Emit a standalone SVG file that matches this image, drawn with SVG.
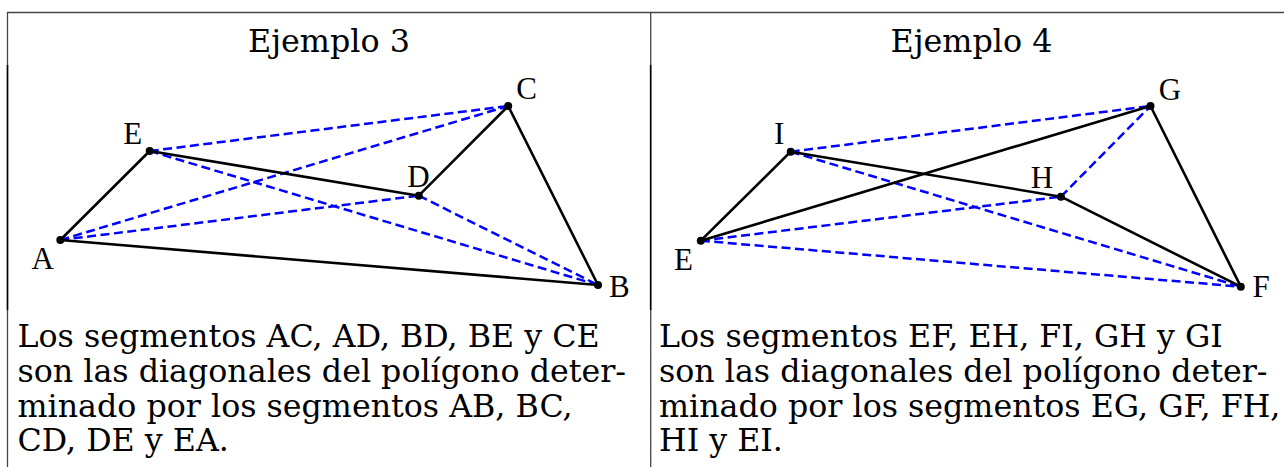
<svg xmlns="http://www.w3.org/2000/svg" width="1284" height="467" viewBox="0 0 1284 467">
<style>
.bg{fill:#ffffff}
.rule{stroke:#444444;stroke-width:1.3;fill:none}
.rulek{stroke:#000000;stroke-width:1.7;fill:none}
.title{font-family:"DejaVu Serif",serif;font-size:31.8px;fill:#000;text-anchor:middle}
.body{font-family:"DejaVu Serif",serif;font-size:31.7px;fill:#000}
.lbl{font-family:"Liberation Serif",serif;font-size:31px;fill:#000;text-anchor:middle}
.edge{stroke:#000;stroke-width:2.6;fill:none;stroke-linecap:round}
.diag{stroke:#0000ff;stroke-width:2.5;fill:none;stroke-dasharray:9 4.5}
.pt{fill:#000}
</style>
<rect class="bg" x="0" y="0" width="1284" height="467"/>
<g id="table">
<line class="rule" x1="7" y1="12.5" x2="1284" y2="12.5"/>
<line class="rule" x1="7.5" y1="12" x2="7.5" y2="65"/>
<line class="rulek" x1="7.5" y1="65" x2="7.5" y2="310"/>
<line class="rule" x1="7.5" y1="310" x2="7.5" y2="467"/>
<line class="rule" x1="650.7" y1="12" x2="650.7" y2="65"/>
<line class="rulek" x1="650.7" y1="65" x2="650.7" y2="310"/>
<line class="rule" x1="650.7" y1="310" x2="650.7" y2="467"/>
</g>
<g id="titles">
<text class="title" x="329" y="52">Ejemplo 3</text>
<text class="title" x="971.5" y="52">Ejemplo 4</text>
</g>
<g id="connectors">
<g id="ex3-diagonals">
<line class="diag" x1="149.7" y1="151" x2="508.2" y2="106"/>
<line class="diag" x1="60.3" y1="240" x2="508.2" y2="106"/>
<line class="diag" x1="60.3" y1="240" x2="418.8" y2="195.7"/>
<line class="diag" x1="149.7" y1="151" x2="598" y2="285"/>
<line class="diag" x1="418.8" y1="195.7" x2="598" y2="285"/>
</g>
<g id="ex3-sides">
<line class="edge" x1="60.3" y1="240" x2="149.7" y2="151"/>
<line class="edge" x1="149.7" y1="151" x2="418.8" y2="195.7"/>
<line class="edge" x1="418.8" y1="195.7" x2="508.2" y2="106"/>
<line class="edge" x1="508.2" y1="106" x2="598" y2="285"/>
<line class="edge" x1="598" y1="285" x2="60.3" y2="240"/>
</g>
<g id="ex4-diagonals">
<line class="diag" x1="790.7" y1="151.7" x2="1150.5" y2="106"/>
<line class="diag" x1="1060.9" y1="196.7" x2="1150.5" y2="106"/>
<line class="diag" x1="700.8" y1="240.7" x2="1060.9" y2="196.7"/>
<line class="diag" x1="700.8" y1="240.7" x2="1240.8" y2="286.7"/>
<line class="diag" x1="790.7" y1="151.7" x2="1240.8" y2="286.7"/>
</g>
<g id="ex4-sides">
<line class="edge" x1="700.8" y1="240.7" x2="790.7" y2="151.7"/>
<line class="edge" x1="790.7" y1="151.7" x2="1060.9" y2="196.7"/>
<line class="edge" x1="1060.9" y1="196.7" x2="1240.8" y2="286.7"/>
<line class="edge" x1="1240.8" y1="286.7" x2="1150.5" y2="106"/>
<line class="edge" x1="1150.5" y1="106" x2="700.8" y2="240.7"/>
</g>
</g>
<g id="node-A"><circle class="pt" cx="60.3" cy="240" r="4"/><text class="lbl" x="42.8" y="269">A</text></g>
<g id="node-B"><circle class="pt" cx="598" cy="285" r="4"/><text class="lbl" x="619.3" y="297">B</text></g>
<g id="node-C"><circle class="pt" cx="508.2" cy="106" r="4"/><text class="lbl" x="526.5" y="99">C</text></g>
<g id="node-D"><circle class="pt" cx="418.8" cy="195.7" r="4"/><text class="lbl" x="418.5" y="187">D</text></g>
<g id="node-E"><circle class="pt" cx="149.7" cy="151" r="4"/><text class="lbl" x="132.8" y="144">E</text></g>
<g id="node-E2"><circle class="pt" cx="700.8" cy="240.7" r="4"/><text class="lbl" x="683.5" y="270">E</text></g>
<g id="node-F"><circle class="pt" cx="1240.8" cy="286.7" r="4"/><text class="lbl" x="1261" y="297">F</text></g>
<g id="node-G"><circle class="pt" cx="1150.5" cy="106" r="4"/><text class="lbl" x="1170" y="100">G</text></g>
<g id="node-H"><circle class="pt" cx="1060.9" cy="196.7" r="4"/><text class="lbl" x="1042" y="188">H</text></g>
<g id="node-I"><circle class="pt" cx="790.7" cy="151.7" r="4"/><text class="lbl" x="779.2" y="144">I</text></g>
<g id="captions">
<text class="body" x="17.5" y="347">Los segmentos AC, AD, BD, BE y CE</text>
<text class="body" x="17.5" y="382">son las diagonales del polígono deter-</text>
<text class="body" x="17.5" y="416.5">minado por los segmentos AB, BC,</text>
<text class="body" x="17.5" y="451">CD, DE y EA.</text>
<text class="body" x="659" y="347">Los segmentos EF, EH, FI, GH y GI</text>
<text class="body" x="659" y="382">son las diagonales del polígono deter-</text>
<text class="body" x="659" y="416.5">minado por los segmentos EG, GF, FH,</text>
<text class="body" x="659" y="451">HI y EI.</text>
</g>
</svg>
